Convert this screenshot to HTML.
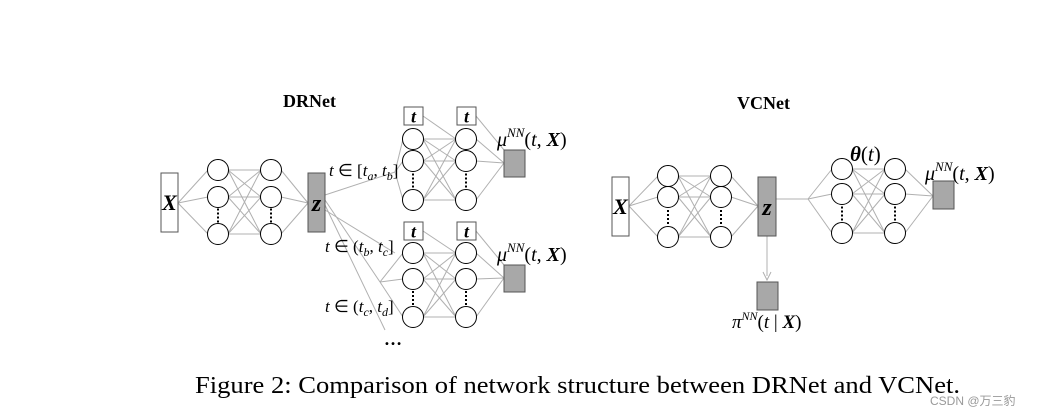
<!DOCTYPE html>
<html><head><meta charset="utf-8"><style>
body{margin:0;background:#fff;width:1044px;height:416px;overflow:hidden}
svg{display:block}
text{font-family:"Liberation Serif",serif;fill:#000}
</style></head><body>
<svg id="s" width="1044" height="416" viewBox="0 0 1044 416">
<g id="lines" stroke="#b0b0b0" stroke-width="1" fill="none"></g>
<g id="nodes"></g>
<text x="283" y="107" font-size="18" font-weight="bold">DRNet</text>
<text x="737" y="109" font-size="18" font-weight="bold">VCNet</text>
<text x="329" y="176" font-size="17" font-style="italic">t <tspan font-style="normal">∈ [</tspan>t<tspan font-size="12" dy="4">a</tspan><tspan dy="-4" font-style="normal">, </tspan>t<tspan font-size="12" dy="4">b</tspan><tspan dy="-4" font-style="normal">]</tspan></text>
<text x="325" y="252" font-size="17" font-style="italic">t <tspan font-style="normal">∈ (</tspan>t<tspan font-size="12" dy="4">b</tspan><tspan dy="-4" font-style="normal">, </tspan>t<tspan font-size="12" dy="4">c</tspan><tspan dy="-4" font-style="normal">]</tspan></text>
<text x="325" y="312" font-size="17" font-style="italic">t <tspan font-style="normal">∈ (</tspan>t<tspan font-size="12" dy="4">c</tspan><tspan dy="-4" font-style="normal">, </tspan>t<tspan font-size="12" dy="4">d</tspan><tspan dy="-4" font-style="normal">]</tspan></text>
<text x="384" y="345" font-size="18" font-weight="bold">…</text>
<text x="497" y="146" font-size="20" font-style="italic">μ<tspan font-size="13" dy="-9">NN</tspan><tspan dy="9" font-style="normal">(</tspan>t<tspan font-style="normal">, </tspan><tspan font-weight="bold">X</tspan><tspan font-style="normal">)</tspan></text>
<text x="497" y="261" font-size="20" font-style="italic">μ<tspan font-size="13" dy="-9">NN</tspan><tspan dy="9" font-style="normal">(</tspan>t<tspan font-style="normal">, </tspan><tspan font-weight="bold">X</tspan><tspan font-style="normal">)</tspan></text>
<text x="925" y="180" font-size="20" font-style="italic">μ<tspan font-size="13" dy="-9">NN</tspan><tspan dy="9" font-style="normal">(</tspan>t<tspan font-style="normal">, </tspan><tspan font-weight="bold">X</tspan><tspan font-style="normal">)</tspan></text>
<text x="850" y="161" font-size="21"><tspan font-weight="bold" font-style="italic">θ</tspan>(<tspan font-style="italic">t</tspan>)</text>
<text x="732" y="328" font-size="19" font-style="italic">π<tspan font-size="12" dy="-8">NN</tspan><tspan dy="8" font-style="normal">(</tspan>t<tspan font-style="normal"> | </tspan><tspan font-weight="bold">X</tspan><tspan font-style="normal">)</tspan></text>
<text x="195" y="393" font-size="24" textLength="765" lengthAdjust="spacingAndGlyphs">Figure 2: Comparison of network structure between DRNet and VCNet.</text>
<text x="930" y="405" font-size="12" style="font-family:'Liberation Sans','Noto Sans CJK SC',sans-serif;fill:#999">CSDN @万三豹</text>
</svg>
<script>
var L=document.getElementById('lines'),N=document.getElementById('nodes'),ns='http://www.w3.org/2000/svg';
function el(p,t,a){var e=document.createElementNS(ns,t);for(var k in a)e.setAttribute(k,a[k]);p.appendChild(e);return e}
function ln(a,b,c,d){el(L,'line',{x1:a,y1:b,x2:c,y2:d})}
function full(x1,ys1,x2,ys2){ys1.forEach(function(a){ys2.forEach(function(b){ln(x1+10,a,x2-10,b)})})}
function circ(x,ys){ys.forEach(function(y){el(N,'circle',{cx:x,cy:y,r:10.5,fill:'#fff',stroke:'#000','stroke-width':1})});
 var dy=(ys[1]+ys[2])/2;[dy-6,dy-2,dy+2,dy+6].forEach(function(y){el(N,'rect',{x:x-1,y:y-1,width:2,height:2,fill:'#000'})})}
function box(x,y,w,h,f,lab,fs){el(N,'rect',{x:x,y:y,width:w,height:h,fill:f,stroke:'#555','stroke-width':1});
 if(lab){var t=el(N,'text',{x:x+w/2,y:y+h/2+fs*0.35,'text-anchor':'middle','font-size':fs,'font-weight':'bold','font-style':'italic'});t.textContent=lab}}
function fanIn(x,y,xs,ys){ys.forEach(function(b){ln(x,y,xs-10,b)})}
function fanOut(xs,ys,x,y){ys.forEach(function(b){ln(xs+10,b,x,y)})}
var A=[170,197,234];
fanIn(178,203,218,A);full(218,A,271,A);fanOut(271,A,308,203);
var U=[139,161,200];
ln(325,195,395,172);fanIn(395,172,413,U);full(413,U,466,U);fanOut(466,U,504,163);
ln(423,116,456,139);ln(476,116,504,150);
var W=[253,279,317];
ln(325,200,380,282);ln(325,205,385,330);ln(325,210,395,253);
fanIn(380,282,413,W);full(413,W,466,W);fanOut(466,W,504,278);
ln(423,231,456,253);ln(476,231,504,265);
circ(218,A);circ(271,A);circ(413,U);circ(466,U);circ(413,W);circ(466,W);
box(161,173,17,59,'#fff','X',22);box(308,173,17,59,'#a8a8a8','z',24);
box(404,107,19,18,'#fff','t',18);box(457,107,19,18,'#fff','t',18);
box(404,222,19,18,'#fff','t',18);box(457,222,19,18,'#fff','t',18);
box(504,150,21,27,'#a8a8a8');box(504,265,21,27,'#a8a8a8');
var B=[176,197,237],C=[169,194,233];
fanIn(629,206,668,B);full(668,B,721,B);fanOut(721,B,758,206);
ln(776,199,808,199);fanIn(808,199,842,C);full(842,C,895,C);fanOut(895,C,933,196);
ln(767,236,767,276);el(L,'path',{d:'M763,272 L767,280 L771,272',stroke:'#b0b0b0'});
circ(668,B);circ(721,B);circ(842,C);circ(895,C);
box(612,177,17,59,'#fff','X',22);box(758,177,18,59,'#a8a8a8','z',24);
box(933,181,21,28,'#a8a8a8');box(757,282,21,28,'#a8a8a8');
</script>
</body></html>
